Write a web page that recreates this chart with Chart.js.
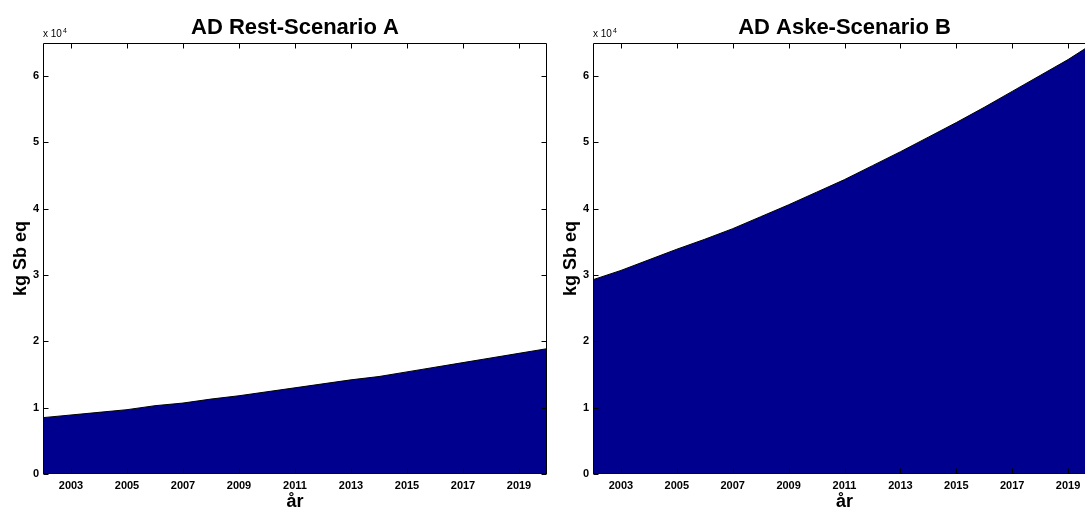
<!DOCTYPE html>
<html>
<head>
<meta charset="utf-8">
<script src="https://cdn.jsdelivr.net/npm/chart.js@4.4.1/dist/chart.umd.min.js"></script>
<style>
  html, body { margin: 0; padding: 0; background: #fff; overflow: hidden; width: 1085px; height: 511px; }
  .panel { position: absolute; top: 0; }
  #panelA { left: 0; }
  #panelB { left: 550px; }
</style>
</head>
<body>
<div class="panel" id="panelA"><canvas id="chartA" width="590" height="511"></canvas></div>
<div class="panel" id="panelB"><canvas id="chartB" width="589" height="511"></canvas></div>
<script>
// Years on the x axis
const years = [2002, 2003, 2004, 2005, 2006, 2007, 2008, 2009, 2010, 2011,
               2012, 2013, 2014, 2015, 2016, 2017, 2018, 2019, 2020];
// Labelled x ticks
const xTickYears = [2003, 2005, 2007, 2009, 2011, 2013, 2015, 2017, 2019];
// y ticks (kg Sb eq), shown in units of 10^4
const yTickValues = [0, 10000, 20000, 30000, 40000, 50000, 60000];

// Abiotic depletion, kg Sb eq
const restScenarioA = [8500, 8900, 9300, 9700, 10300, 10700, 11300, 11800, 12400, 13000,
                       13600, 14200, 14700, 15400, 16100, 16800, 17500, 18200, 18900];
const askeScenarioB = [29300, 30700, 32300, 33900, 35400, 37000, 38800, 40600, 42500, 44400,
                       46500, 48600, 50800, 53000, 55300, 57700, 60100, 62500, 65200];

const titleA = 'AD Rest-Scenario A';
const titleB = 'AD Aske-Scenario B';
const yTitle = 'kg Sb eq';
const xTitle = 'år';

const FONT = "'Liberation Sans', Arial, Helvetica, sans-serif";
const FILL = 'rgb(0, 0, 143)';

// Box around the axes with inward tick marks and the exponent note
const boxPlugin = {
  id: 'axesBox',
  afterDatasetsDraw(chart) {
    const { ctx, chartArea: a, scales: { x, y } } = chart;
    const len = 5;
    ctx.save();
    ctx.strokeStyle = '#000';
    ctx.lineWidth = 1;
    const L = Math.round(a.left) + 0.5, R = Math.round(a.right) - 0.5;
    const T = Math.round(a.top) + 0.5, B = Math.round(a.bottom) - 0.5;
    ctx.beginPath();
    ctx.moveTo(L, T); ctx.lineTo(R, T); ctx.lineTo(R, B); ctx.lineTo(L, B); ctx.closePath();
    x.ticks.forEach(t => {
      const px = Math.round(x.getPixelForValue(t.value)) + 0.5;
      ctx.moveTo(px, T); ctx.lineTo(px, T + len);
      ctx.moveTo(px, B); ctx.lineTo(px, B - len);
    });
    y.ticks.forEach(t => {
      const py = Math.round(y.getPixelForValue(t.value)) + 0.5;
      ctx.moveTo(L, py); ctx.lineTo(L + len, py);
      ctx.moveTo(R, py); ctx.lineTo(R - len, py);
    });
    ctx.stroke();
    // exponent note above the y axis
    ctx.fillStyle = '#000';
    ctx.textBaseline = 'alphabetic';
    ctx.textAlign = 'left';
    ctx.font = '10px ' + FONT;
    const base = 'x 10';
    ctx.fillText(base, a.left, a.top - 6);
    const w = ctx.measureText(base).width;
    ctx.font = '7px ' + FONT;
    ctx.fillText('4', a.left + w + 1, a.top - 10);
    ctx.restore();
  }
};

function makeChart(canvasId, title, values) {
  return new Chart(document.getElementById(canvasId), {
    type: 'line',
    data: {
      datasets: [{
        data: years.map((yr, i) => ({ x: yr, y: values[i] })),
        fill: 'origin',
        backgroundColor: FILL,
        borderColor: '#000',
        borderWidth: 1,
        pointRadius: 0,
        tension: 0
      }]
    },
    options: {
      responsive: false,
      animation: false,
      events: [],
      layout: { padding: 0 },
      plugins: {
        legend: { display: false },
        tooltip: { enabled: false },
        title: {
          display: true,
          text: title,
          color: '#000',
          font: { family: FONT, size: 22, weight: 'bold', lineHeight: 1.2 },
          padding: { top: 14.5, bottom: 2.1 }
        }
      },
      scales: {
        x: {
          type: 'linear',
          min: 2002,
          max: 2020,
          afterBuildTicks: s => { s.ticks = xTickYears.map(v => ({ value: v })); },
          afterFit: s => { s.height = 37; },
          grid: { display: false, drawTicks: false },
          border: { display: false },
          ticks: {
            color: '#000',
            padding: 5,
            maxRotation: 0,
            font: { family: FONT, size: 11, weight: 'bold' },
            callback: v => String(v)
          },
          title: {
            display: true,
            text: xTitle,
            color: '#000',
            font: { family: FONT, size: 18, weight: 'bold', lineHeight: 1.0 },
            padding: { top: 0, bottom: 0 }
          }
        },
        y: {
          type: 'linear',
          min: 0,
          max: 65000,
          afterBuildTicks: s => { s.ticks = yTickValues.map(v => ({ value: v })); },
          afterFit: s => { s.width = 43; },
          grid: { display: false, drawTicks: false },
          border: { display: false },
          ticks: {
            color: '#000',
            padding: 4,
            font: { family: FONT, size: 11, weight: 'bold' },
            callback: v => String(v / 10000)
          },
          title: {
            display: true,
            text: yTitle,
            color: '#000',
            font: { family: FONT, size: 18, weight: 'bold', lineHeight: 1.0 },
            padding: { top: 12, bottom: 0 }
          }
        },
        // empty right-hand strip so the title centres over the plot
        yRight: {
          type: 'linear',
          position: 'right',
          min: 0,
          max: 65000,
          afterFit: s => { s.width = 43; },
          grid: { display: false, drawTicks: false },
          border: { display: false },
          ticks: { display: false }
        }
      }
    },
    plugins: [boxPlugin]
  });
}

makeChart('chartA', titleA, restScenarioA);
makeChart('chartB', titleB, askeScenarioB);
</script>
</body>
</html>
